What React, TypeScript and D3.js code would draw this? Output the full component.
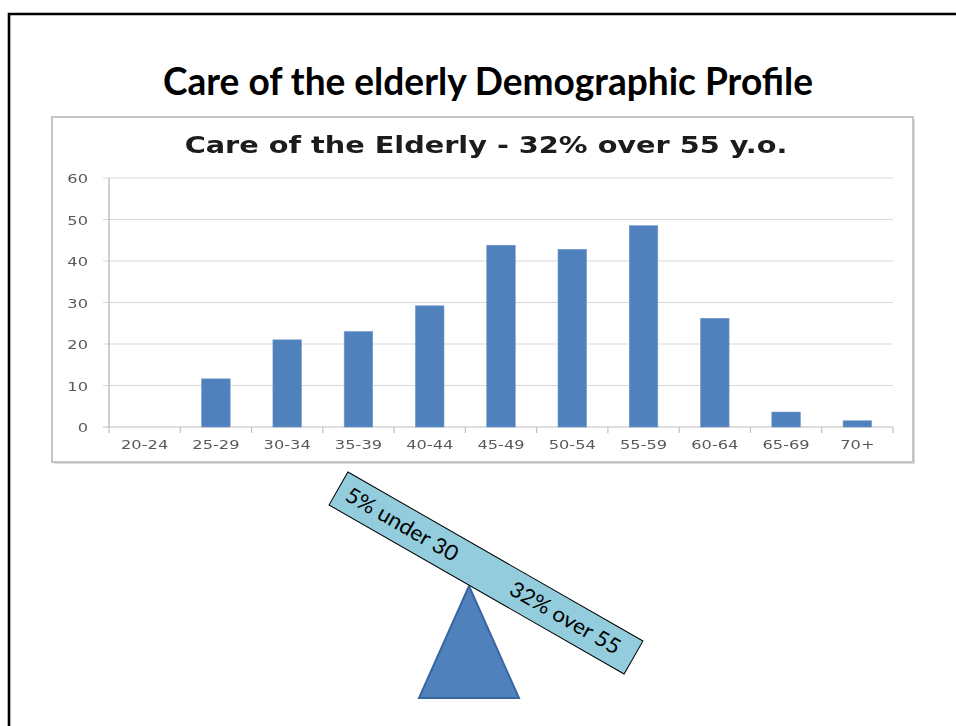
import React from "react";
import * as d3 from "d3";

// Age bands and the share of staff in each band
const categories = ["20-24", "25-29", "30-34", "35-39", "40-44", "45-49", "50-54", "55-59", "60-64", "65-69", "70+"];
const values = [0, 11.6, 21, 23, 29.2, 43.8, 42.8, 48.5, 26.2, 3.6, 1.5];
const yTicks = [0, 10, 20, 30, 40, 50, 60];

const pageTitle = "Care of the elderly Demographic Profile";
const chartTitle = "Care of the Elderly - 32% over 55 y.o.";
const leftLabel = "5% under 30";
const rightLabel = "32% over 55";

const W = 956;
const H = 726;

export default function App() {
  const x = d3.scaleBand<string>().domain(categories).range([109, 893]).paddingInner(0.6).paddingOuter(0.3);
  const y = d3.scaleLinear().domain([0, 60]).range([427, 178]);
  const step = x.step();
  const slotStart = (c: string) => (x(c) as number) - (step - x.bandwidth()) / 2;
  const boundaries = [...categories.map(slotStart), 893];

  const axisColor = "#bfbfbf";
  const gridColor = "#d9d9d9";
  const labelColor = "#595959";
  const sx = 1.3; // chart text is rendered stretched horizontally

  // seesaw geometry
  const plank = { cx: 486, cy: 573, len: 340, thick: 38, angle: 29.8 };
  const tri = d3.path();
  tri.moveTo(469, 586);
  tri.lineTo(519, 698);
  tri.lineTo(419, 698);
  tri.closePath();

  return (
    <svg width={W} height={H} style={{ position: "absolute", left: 0, top: 0, background: "#fff" }}>
      <defs>
        <filter id="soft" x="-5%" y="-5%" width="110%" height="110%">
          <feGaussianBlur stdDeviation="0.45" />
        </filter>
      </defs>
      {/* slide frame */}
      <path d={`M9,${H + 5} L9,14 L${W + 5},14`} fill="none" stroke="#000" strokeWidth={2.6} />

      <text
        x={488}
        y={95}
        textAnchor="middle"
        fontFamily="Liberation Sans Narrow, Lato, sans-serif"
        fontWeight="bold"
        fontSize={38}
        textLength={650}
        lengthAdjust="spacingAndGlyphs"
        fill="#000"
      >
        {pageTitle}
      </text>

      <g filter="url(#soft)">
        {/* chart box */}
        <rect x={54} y={119} width={861} height={345} fill="#9a9a9a" opacity={0.35} />
        <rect x={52} y={117} width={861} height={345} fill="#fff" stroke="#c4c4c4" strokeWidth={2} />

        <text
          transform={`translate(486,153) scale(1.25,1)`}
          textAnchor="middle"
          fontFamily="DejaVu Sans, Verdana, sans-serif"
          fontWeight="bold"
          fontSize={23}
          fill="#1a1a1a"
        >
          {chartTitle}
        </text>

        {/* gridlines and y ticks */}
        {yTicks.map((t) => (
          <g key={t}>
            <line x1={103} x2={893} y1={y(t)} y2={y(t)} stroke={t === 0 ? axisColor : gridColor} strokeWidth={1.2} />
            <text
              transform={`translate(88,${y(t) + 5}) scale(${sx},1)`}
              textAnchor="end"
              fontFamily="DejaVu Sans, Verdana, sans-serif"
              fontSize={12.5}
              fill={labelColor}
            >
              {t}
            </text>
          </g>
        ))}
        {/* y axis */}
        <line x1={109} x2={109} y1={178} y2={427} stroke={axisColor} strokeWidth={1.5} />

        {/* category ticks */}
        {boundaries.map((b, i) => (
          <line key={i} x1={b} x2={b} y1={427} y2={433} stroke={axisColor} strokeWidth={1.2} />
        ))}

        {/* bars */}
        {categories.map((c, i) => (
          <rect
            key={c}
            x={x(c) as number}
            y={y(values[i])}
            width={x.bandwidth()}
            height={y(0) - y(values[i])}
            fill="#4f81bd"
            stroke="#6f97c9"
            strokeWidth={0.6}
          />
        ))}

        {/* category labels */}
        {categories.map((c) => (
          <text
            key={c}
            transform={`translate(${(x(c) as number) + x.bandwidth() / 2},449) scale(${sx},1)`}
            textAnchor="middle"
            fontFamily="DejaVu Sans, Verdana, sans-serif"
            fontSize={12.5}
            fill={labelColor}
          >
            {c}
          </text>
        ))}
      </g>

      {/* seesaw: fulcrum */}
      <path d={tri.toString()} fill="#4f81bd" stroke="#3a66a0" strokeWidth={2} />
      {/* seesaw: plank */}
      <g transform={`translate(${plank.cx},${plank.cy}) rotate(${plank.angle})`}>
        <rect
          x={-plank.len / 2}
          y={-plank.thick / 2}
          width={plank.len}
          height={plank.thick}
          fill="#93cddd"
          stroke="#000"
          strokeWidth={1}
        />
        <text
          x={-160}
          y={7}
          fontFamily="Lato, Liberation Sans, sans-serif"
          fontSize={21.5}
          textLength={126}
          lengthAdjust="spacingAndGlyphs"
          fill="#000"
        >
          {leftLabel}
        </text>
        <text
          x={29}
          y={7}
          fontFamily="Lato, Liberation Sans, sans-serif"
          fontSize={21.5}
          textLength={124}
          lengthAdjust="spacingAndGlyphs"
          fill="#000"
        >
          {rightLabel}
        </text>
      </g>
    </svg>
  );
}
